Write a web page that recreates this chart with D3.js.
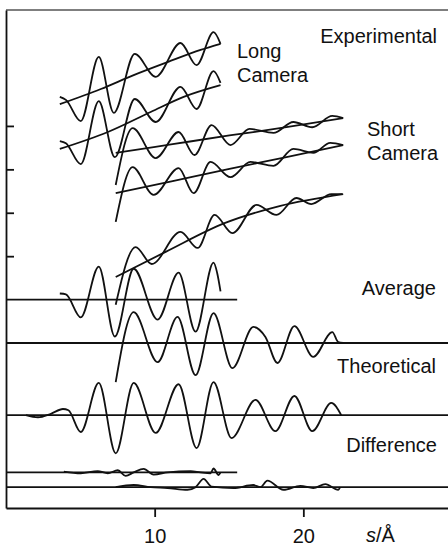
<!DOCTYPE html>
<html>
<head>
<meta charset="utf-8">
<script src="https://d3js.org/d3.v7.min.js"></script>
<style>
  body { margin: 0; background: #fff; }
  svg { display: block; font-family: "Liberation Sans", Arial, Helvetica, sans-serif; }
  .label { font-size: 20px; fill: #111; }
  .curve { fill: none; stroke: #111; stroke-width: 1.8; stroke-linejoin: round; }
  .axis path, .axis line { stroke: #111; stroke-width: 1.8; }
  .axis text { font-size: 20px; fill: #111; font-family: "Liberation Sans", Arial, sans-serif; }
</style>
</head>
<body>
<div id="chart"></div>
<script>
// axis ticks
var sTicks = [10, 20];
var yTicks = [2, 3, 4, 5];
var sMin = 0, sMax = 30, yMin = -3.8, yMax = 7.67;

// baselines for the offset curves, and where the short ones stop
var longAvgBase = 1.0, shortAvgBase = 0, theoryBase = -1.66;
var longDiffBase = -2.98, shortDiffBase = -3.32;
var longEnd = 15.55;

// experimental intensities [s, I] with their backgrounds, long camera
var longExp1 = [[3.62, 5.67], [4.03, 5.60], [5.03, 5.11], [6.24, 6.59], [7.25, 5.30], [8.66, 6.66],
  [10.07, 6.13], [11.74, 6.91], [12.82, 6.40], [13.96, 7.16], [14.43, 6.89]];
var longBg1 = [[3.62, 5.50], [6.38, 5.85], [8.59, 6.17], [10.87, 6.47], [13.09, 6.75], [14.43, 6.89]];
var longExp2 = [[3.62, 4.65], [4.03, 4.60], [5.03, 4.12], [6.24, 5.57], [7.32, 4.28], [8.66, 5.62],
  [10.07, 5.09], [11.74, 5.90], [12.82, 5.39], [13.96, 6.26], [14.43, 5.99]];
var longBg2 = [[3.62, 4.47], [6.85, 4.86], [9.73, 5.32], [11.95, 5.67], [14.43, 5.94]];

// short camera
var shortExp1 = [[7.38, 3.64], [8.52, 4.95], [10.07, 4.26], [11.61, 4.86], [12.68, 4.33], [13.83, 5.02],
  [15.10, 4.56], [16.38, 4.93], [17.99, 4.84], [19.33, 5.09], [20.60, 4.97], [21.95, 5.23], [22.68, 5.18]];
var shortBg1 = [[7.38, 4.38], [11.21, 4.58], [15.03, 4.78], [18.86, 4.97], [22.68, 5.18]];
var shortExp2 = [[7.38, 2.79], [8.52, 4.05], [9.93, 3.41], [11.61, 4.03], [12.62, 3.45], [13.76, 4.17],
  [15.10, 3.82], [16.44, 4.17], [17.99, 4.08], [19.33, 4.47], [20.67, 4.38], [21.81, 4.61], [22.68, 4.56]];
var shortBg2 = [[7.38, 3.45], [11.21, 3.73], [15.03, 4.01], [18.86, 4.28], [22.68, 4.56]];
var shortExp3 = [[7.38, 0.88], [8.72, 2.21], [9.80, 1.82], [11.74, 2.56], [12.89, 2.19], [14.03, 2.95],
  [15.23, 2.53], [16.85, 3.18], [18.19, 2.95], [19.53, 3.34], [20.54, 3.20], [21.88, 3.43], [22.62, 3.43]];
var shortBg3 = [[7.38, 1.52], [10.74, 2.10], [14.70, 2.76], [18.46, 3.16], [22.68, 3.43]];

// molecular intensities sM(s), offsets from their baselines
var longAvg = [[3.62, 0.14], [4.03, 0.12], [5.03, -0.41], [6.24, 0.76], [7.32, -0.85], [8.59, 0.71],
  [10.20, -0.46], [11.61, 0.62], [12.75, -0.74], [13.96, 0.85], [14.2, 0.62], [14.43, 0.19]];
var shortAvg = [[7.38, -0.90], [8.59, 0.71], [10.20, -0.44], [11.54, 0.60], [12.75, -0.74], [13.96, 0.69],
  [15.23, -0.58], [16.64, 0.37], [17.45, 0.14], [18.26, -0.46], [19.40, 0.39], [20.67, -0.32],
  [21.95, 0.25], [22.35, 0.02], [22.68, 0]];
var theory = [[1.34, 0], [2.15, -0.05], [3.02, 0.03], [3.83, 0.14], [4.2, 0.11], [5.03, -0.39],
  [6.24, 0.74], [7.38, -0.88], [8.59, 0.74], [10.07, -0.41], [11.61, 0.71], [12.82, -0.76],
  [13.96, 0.76], [15.17, -0.53], [16.78, 0.35], [18.12, -0.37], [19.40, 0.44], [20.60, -0.37],
  [21.88, 0.28], [22.55, 0]];
var longDiff = [[3.89, 0.02], [5.03, -0.02], [6.17, 0.03], [6.85, -0.02], [7.52, 0.05], [8.05, -0.08],
  [8.59, 0], [9.26, 0.08], [9.93, -0.05], [10.87, 0], [12.42, 0.03], [13.09, 0], [13.76, -0.02],
  [13.96, 0.09], [14.30, -0.06], [14.43, 0]];
var shortDiff = [[7.38, 0], [8.59, 0.05], [9.73, 0], [10.87, -0.02], [12.21, -0.06], [12.75, 0],
  [13.29, 0.19], [13.83, 0.01], [15.30, -0.02], [16.64, 0.05], [17.11, 0], [17.58, 0.15],
  [18.66, -0.06], [19.80, 0.03], [20.67, -0.02], [21.48, 0.07], [22.35, -0.06], [22.48, 0]];

var w = 448, h = 546;

var x = d3.scaleLinear().domain([sMin, sMax]).range([6, 452]);
var y = d3.scaleLinear().domain([yMin, yMax]).range([508, 10]);

var svg = d3.select("#chart").append("svg")
  .attr("width", w)
  .attr("height", h);

var line = d3.line()
  .x(function (d) { return x(d[0]); })
  .y(function (d) { return y(d[1]); })
  .curve(d3.curveMonotoneX);

function shift(data, base) {
  return data.map(function (d) { return [d[0], d[1] + base]; });
}

function drawCurve(data) {
  svg.append("path").attr("class", "curve").attr("d", line(data));
}

function drawBase(base, end) {
  svg.append("line")
    .attr("class", "curve")
    .attr("x1", x(sMin)).attr("x2", x(end))
    .attr("y1", y(base)).attr("y2", y(base));
}

// frame: top edge, then the two axes
svg.append("line")
  .attr("x1", x(sMin)).attr("x2", x(sMax))
  .attr("y1", y(yMax)).attr("y2", y(yMax))
  .attr("stroke", "#555").attr("stroke-width", 1.4);

svg.append("g")
  .attr("class", "axis")
  .attr("transform", "translate(0," + y(yMin) + ")")
  .call(d3.axisBottom(x).tickValues(sTicks).tickSize(9).tickPadding(12).tickSizeOuter(0));

svg.append("g")
  .attr("class", "axis")
  .attr("transform", "translate(" + x(sMin) + ",0)")
  .call(d3.axisLeft(y).tickValues(yTicks).tickSize(-8).tickFormat("").tickSizeOuter(0));

// baselines
drawBase(longAvgBase, longEnd);
drawBase(shortAvgBase, sMax);
drawBase(theoryBase, sMax);
drawBase(longDiffBase, longEnd);
drawBase(shortDiffBase, sMax);

// experimental curves and backgrounds
[longExp1, longBg1, longExp2, longBg2, shortExp1, shortBg1, shortExp2, shortBg2, shortExp3, shortBg3]
  .forEach(drawCurve);

drawCurve(shift(longAvg, longAvgBase));
drawCurve(shift(shortAvg, shortAvgBase));
drawCurve(shift(theory, theoryBase));
drawCurve(shift(longDiff, longDiffBase));
drawCurve(shift(shortDiff, shortDiffBase));

// labels
function label(txt, px, py, anchor) {
  svg.append("text").attr("class", "label")
    .attr("x", px).attr("y", py)
    .attr("text-anchor", anchor || "start")
    .text(txt);
}
label("Experimental", 437, 43, "end");
label("Long", 237, 58);
label("Camera", 237, 82);
label("Short", 367, 136);
label("Camera", 367, 160);
label("Average", 436, 295, "end");
label("Theoretical", 436, 373, "end");
label("Difference", 437, 452, "end");

var unit = svg.append("text").attr("class", "label").attr("x", 366).attr("y", 542);
unit.append("tspan").attr("font-style", "italic").text("s");
unit.append("tspan").text("/Å");
</script>
</body>
</html>
